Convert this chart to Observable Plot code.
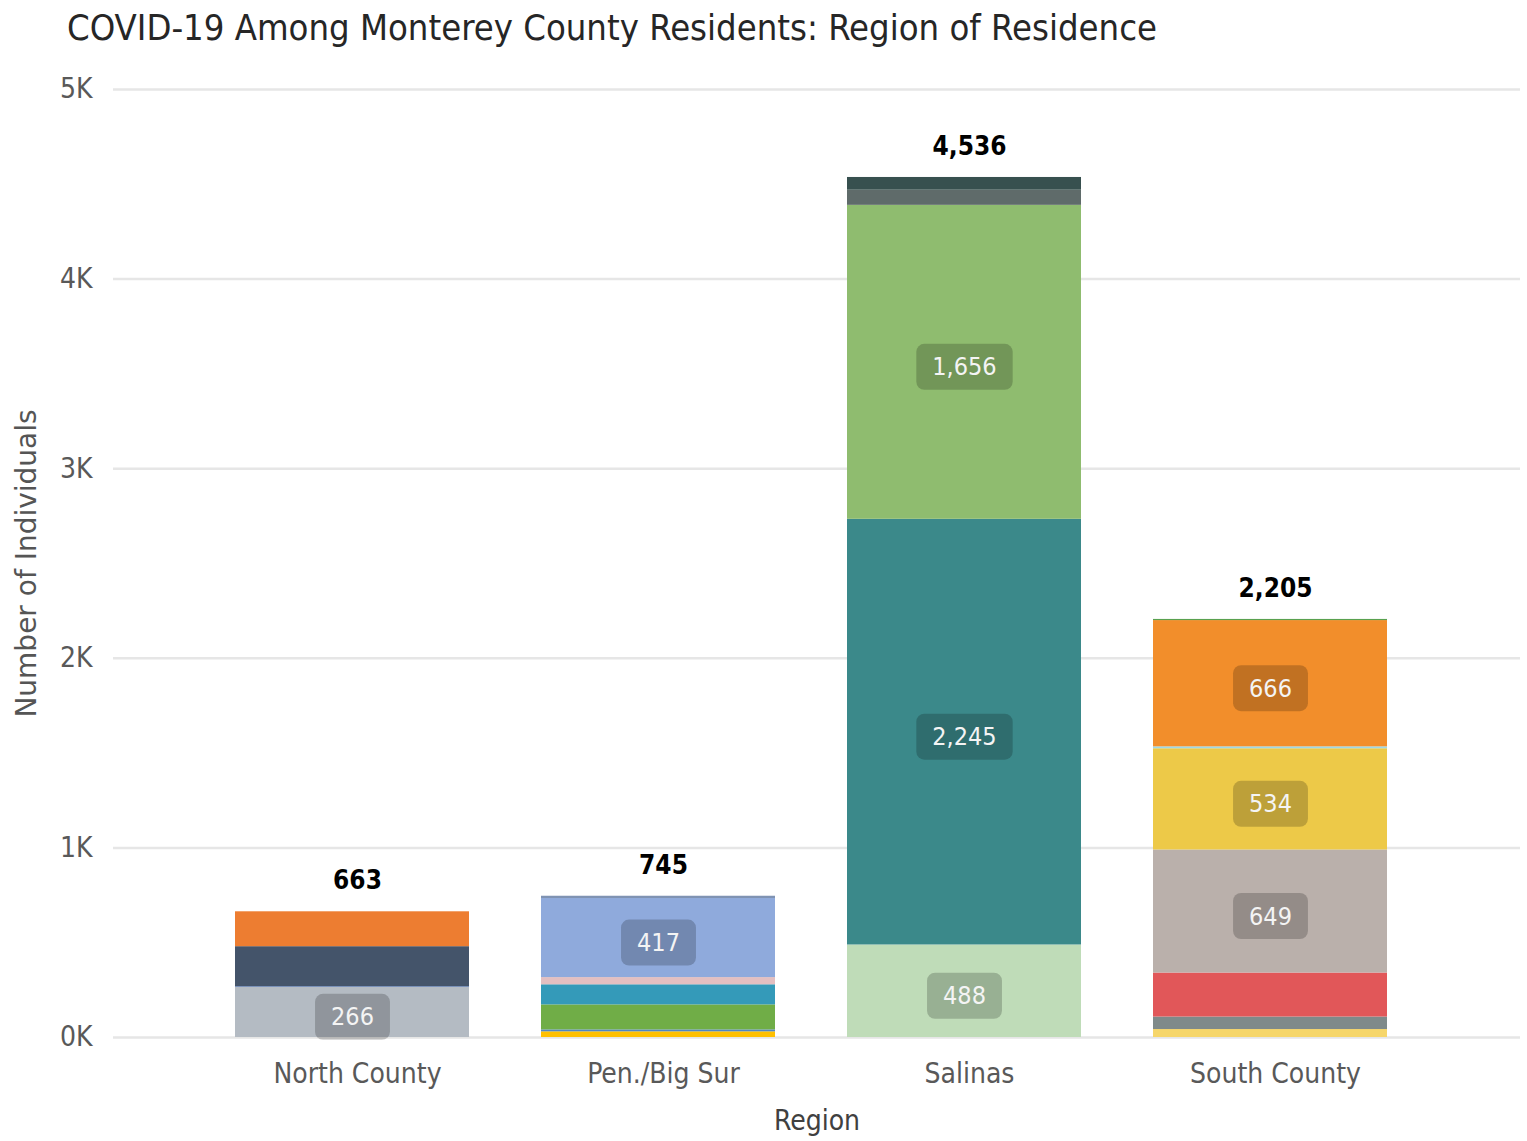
<!DOCTYPE html>
<html><head><meta charset="utf-8">
<script src="https://cdn.jsdelivr.net/npm/d3@7"></script>
<script src="https://cdn.jsdelivr.net/npm/@observablehq/plot@0.6"></script>
<style>
body{margin:0;background:#fff;}
#wrap{position:relative;width:1527px;height:1141px;overflow:hidden;}
#chart,#title{position:absolute;left:0;top:0;}
</style></head><body>
<div id="wrap"><div id="chart"></div><svg id="title" width="1527" height="60"></svg></div>
<script>
const titleText = "COVID-19 Among Monterey County Residents: Region of Residence";
const yLabel = "Number of Individuals";
const xLabel = "Region";
const regions = ["North County", "Pen./Big Sur", "Salinas", "South County"];
const totals = [663, 745, 4536, 2205];
const yTicks = [0, 1000, 2000, 3000, 4000, 5000];
const yTickLabels = ["0K", "1K", "2K", "3K", "4K", "5K"];

// stacked segments, bottom to top
const northKeys = ["N1", "N2", "N3", "N4"];
const northValues = [266, 3, 210, 184];
const penKeys = ["P1", "P2", "P3", "P4", "P5", "P6", "P7"];
const penValues = [30, 10, 132, 106, 38, 417, 12];
const salinasKeys = ["S1", "S2", "S3", "S4", "S5"];
const salinasValues = [488, 2245, 1656, 80, 67];
const southKeys = ["C1", "C2", "C3", "C4", "C5", "C6", "C7", "C8"];
const southValues = [42, 66, 232, 649, 534, 10, 666, 6];

// styling: colour of each segment key
const palette = {
  N1: "#b4bbc3", N2: "#2f5597", N3: "#44546a", N4: "#ed7d31",
  P1: "#ffc000", P2: "#4f86c6", P3: "#70ad47", P4: "#349ab9", P5: "#e3bfc1", P6: "#8faadc", P7: "#7f93b3",
  S1: "#bfdcb8", S2: "#3b898a", S3: "#8fbc6f", S4: "#5f6b6a", S5: "#37504f",
  C1: "#f6d66a", C2: "#7f8a8a", C3: "#e15759", C4: "#bab0ab", C5: "#edc948", C6: "#9fd8e6", C7: "#f28e2b", C8: "#59a14f"
};

const groups = [[northKeys, northValues], [penKeys, penValues], [salinasKeys, salinasValues], [southKeys, southValues]];
const rows = [];
groups.forEach(([keys, vals], i) => keys.forEach((k, j) => rows.push({region: regions[i], key: k, value: vals[j]})));
const totalRows = regions.map((r, i) => ({region: r, total: totals[i]}));
const fmt = d3.format(",");
const keys = Object.keys(palette);

const FONT = "'DejaVu Sans Condensed', 'DejaVu Sans', sans-serif";

const chart = Plot.plot({
  width: 1527, height: 1141,
  marginLeft: 113, marginRight: 7, marginTop: 89, marginBottom: 104,
  style: {fontFamily: FONT, background: "white", overflow: "visible"},
  x: {domain: regions, range: [163, 1459], padding: 0.235},
  y: {domain: [0, 5000]},
  color: {domain: keys, range: keys.map(k => palette[k])},
  marks: [
    Plot.ruleY(yTicks, {stroke: "#e6e6e6", strokeWidth: 2.5}),
    Plot.barY(rows, {x: "region", y: "value", fill: "key"}),
    Plot.text(rows, Plot.stackY({x: "region", y: "value", text: d => d.value >= 250 ? fmt(d.value) : "", fill: "#f4f4f4", fontSize: 25, dy: 5})),
    Plot.text(totalRows, {x: "region", y: "total", text: d => fmt(d.total), dy: -31, dx: 5, fontSize: 26, fontWeight: "bold", fill: "black"}),
    Plot.axisY({ticks: yTicks, tickFormat: d => yTickLabels[yTicks.indexOf(d)], tickSize: 0, tickPadding: 21, fontSize: 28, color: "#595959", label: null}),
    Plot.axisX({tickSize: 0, tickPadding: 26, dx: 5, fontSize: 28, color: "#595959", label: null}),
    Plot.text([yLabel], {text: d => d, frameAnchor: "left", textAnchor: "middle", rotate: -90, dx: -86, fontSize: 28, fill: "#555", fontFamily: "'DejaVu Sans', sans-serif"}),
    Plot.text([xLabel], {text: d => d, frameAnchor: "bottom", dy: 92, fontSize: 28, fill: "#404040"})
  ]
});
document.getElementById("chart").append(chart);

// rounded label boxes behind segment values (first text mark)
const segGroup = chart.querySelector('g[aria-label="text"]');
d3.select(segGroup).selectAll("text").each(function() {
  if (!this.textContent) return;
  const b = this.getBBox();
  const w = b.width + 32, h = 46;
  const cx = b.x + b.width / 2, cy = b.y + b.height / 2;
  const r = d3.select(this.parentNode).insert("rect", () => this)
    .attr("x", cx - w / 2).attr("y", cy - h / 2).attr("width", w).attr("height", h)
    .attr("rx", 8).attr("fill", "black").attr("fill-opacity", 0.2).attr("stroke", "none");
  const t = this.getAttribute("transform");
  if (t) r.attr("transform", t);
});

d3.select("#title").append("text")
  .attr("x", 67).attr("y", 40)
  .attr("font-family", "'Liberation Sans Narrow', 'DejaVu Sans Condensed', sans-serif")
  .attr("font-size", 35).attr("fill", "#262626")
  .attr("textLength", 1090).attr("lengthAdjust", "spacingAndGlyphs")
  .text(titleText);
</script>
</body></html>
